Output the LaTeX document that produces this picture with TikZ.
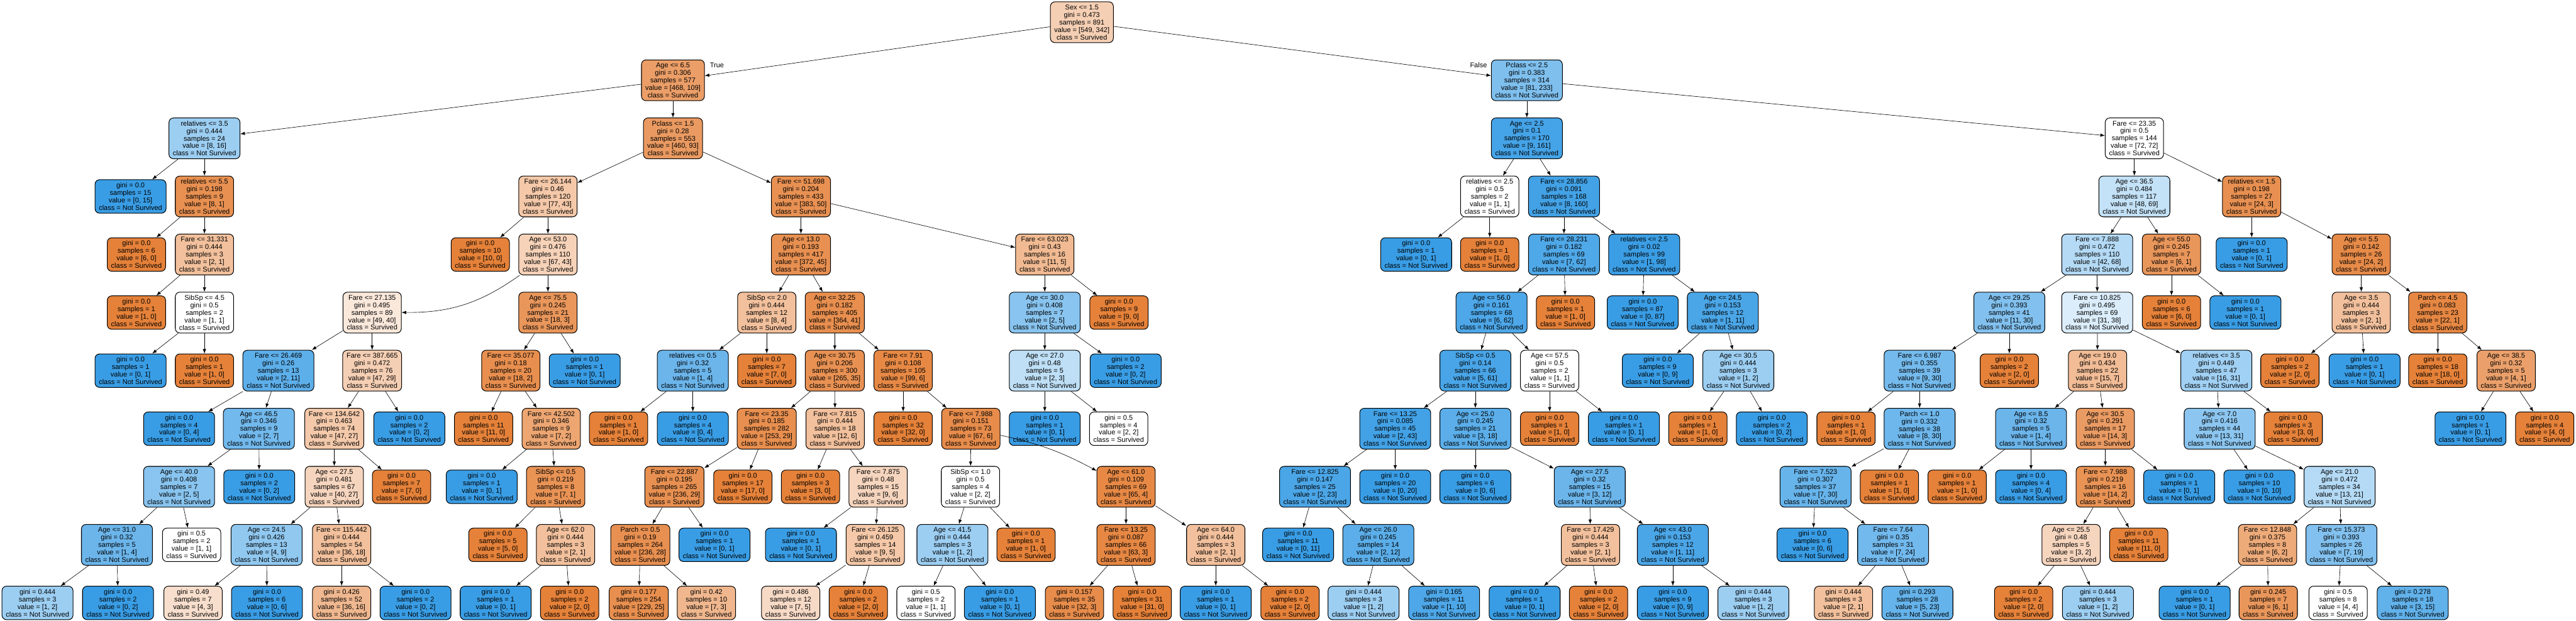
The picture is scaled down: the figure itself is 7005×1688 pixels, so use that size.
\documentclass[tikz,border=0pt]{standalone}
\usepackage{fontspec}
\setmainfont{Liberation Sans}
\usepackage{tikz}
\usetikzlibrary{arrows.meta}
\definecolor{surv}{HTML}{E58139}
\definecolor{nsurv}{HTML}{399DE5}

\begin{document}
\begin{tikzpicture}[x=0.01cm, y=0.01cm,
  font=\fontsize{5.35}{5.8}\selectfont,
  decision/.style={draw, line width=0.5pt, rounded corners=3.5pt, align=center,
    inner xsep=3pt, inner ysep=1pt, minimum height=1.11cm},
  outcome/.style={decision, minimum height=0.91cm},
  every edge/.style={draw, line width=0.3pt, -{Latex[length=3.5pt,width=2.6pt]}}]

  \useasboundingbox (0,0) rectangle (7005,1688);

  \node [decision,fill=surv!38] (n0) at (2942,1627.5) {Sex <= 1.5\\gini = 0.473\\samples = 891\\value = [549, 342]\\class = Survived};
  \node [decision,fill=surv!77] (n1) at (1830,1469.5) {Age <= 6.5\\gini = 0.306\\samples = 577\\value = [468, 109]\\class = Survived};
  \node [decision,fill=nsurv!50] (n2) at (556,1311.5) {relatives <= 3.5\\gini = 0.444\\samples = 24\\value = [8, 16]\\class = Not Survived};
  \node [outcome,fill=nsurv] (n3) at (355,1153.5) {gini = 0.0\\samples = 15\\value = [0, 15]\\class = Not Survived};
  \node [decision,fill=surv!88] (n4) at (556,1153.5) {relatives <= 5.5\\gini = 0.198\\samples = 9\\value = [8, 1]\\class = Survived};
  \node [outcome,fill=surv] (n5) at (371,995.5) {gini = 0.0\\samples = 6\\value = [6, 0]\\class = Survived};
  \node [decision,fill=surv!50] (n6) at (556,995.5) {Fare <= 31.331\\gini = 0.444\\samples = 3\\value = [2, 1]\\class = Survived};
  \node [outcome,fill=surv] (n7) at (371,837.5) {gini = 0.0\\samples = 1\\value = [1, 0]\\class = Survived};
  \node [decision,fill=white] (n8) at (556,837.5) {SibSp <= 4.5\\gini = 0.5\\samples = 2\\value = [1, 1]\\class = Survived};
  \node [outcome,fill=nsurv] (n9) at (355,679.5) {gini = 0.0\\samples = 1\\value = [0, 1]\\class = Not Survived};
  \node [outcome,fill=surv] (n10) at (556,679.5) {gini = 0.0\\samples = 1\\value = [1, 0]\\class = Survived};
  \node [decision,fill=surv!80] (n11) at (1830,1311.5) {Pclass <= 1.5\\gini = 0.28\\samples = 553\\value = [460, 93]\\class = Survived};
  \node [decision,fill=surv!44] (n12) at (1490,1153.5) {Fare <= 26.144\\gini = 0.46\\samples = 120\\value = [77, 43]\\class = Survived};
  \node [outcome,fill=surv] (n13) at (1306,995.5) {gini = 0.0\\samples = 10\\value = [10, 0]\\class = Survived};
  \node [decision,fill=surv!36] (n14) at (1490,995.5) {Age <= 53.0\\gini = 0.476\\samples = 110\\value = [67, 43]\\class = Survived};
  \node [decision,fill=surv!18] (n15) at (1012,837.5) {Fare <= 27.135\\gini = 0.495\\samples = 89\\value = [49, 40]\\class = Survived};
  \node [decision,fill=nsurv!82] (n16) at (757,679.5) {Fare <= 26.469\\gini = 0.26\\samples = 13\\value = [2, 11]\\class = Not Survived};
  \node [outcome,fill=nsurv] (n17) at (487,521.5) {gini = 0.0\\samples = 4\\value = [0, 4]\\class = Not Survived};
  \node [decision,fill=nsurv!71] (n18) at (704,521.5) {Age <= 46.5\\gini = 0.346\\samples = 9\\value = [2, 7]\\class = Not Survived};
  \node [decision,fill=nsurv!60] (n19) at (487,363.5) {Age <= 40.0\\gini = 0.408\\samples = 7\\value = [2, 5]\\class = Not Survived};
  \node [decision,fill=nsurv!75] (n20) at (318,205.5) {Age <= 31.0\\gini = 0.32\\samples = 5\\value = [1, 4]\\class = Not Survived};
  \node [outcome,fill=nsurv!50] (n21) at (102,47.5) {gini = 0.444\\samples = 3\\value = [1, 2]\\class = Not Survived};
  \node [outcome,fill=nsurv] (n22) at (321,47.5) {gini = 0.0\\samples = 2\\value = [0, 2]\\class = Not Survived};
  \node [outcome,fill=white] (n23) at (521,205.5) {gini = 0.5\\samples = 2\\value = [1, 1]\\class = Survived};
  \node [outcome,fill=nsurv] (n24) at (705,363.5) {gini = 0.0\\samples = 2\\value = [0, 2]\\class = Not Survived};
  \node [decision,fill=surv!38] (n25) at (1012,679.5) {Fare <= 387.665\\gini = 0.472\\samples = 76\\value = [47, 29]\\class = Survived};
  \node [decision,fill=surv!43] (n26) at (909,521.5) {Fare <= 134.642\\gini = 0.463\\samples = 74\\value = [47, 27]\\class = Survived};
  \node [decision,fill=surv!33] (n27) at (909,363.5) {Age <= 27.5\\gini = 0.481\\samples = 67\\value = [40, 27]\\class = Survived};
  \node [decision,fill=nsurv!56] (n28) at (725,205.5) {Age <= 24.5\\gini = 0.426\\samples = 13\\value = [4, 9]\\class = Not Survived};
  \node [outcome,fill=surv!25] (n29) at (525,47.5) {gini = 0.49\\samples = 7\\value = [4, 3]\\class = Survived};
  \node [outcome,fill=nsurv] (n30) at (726,47.5) {gini = 0.0\\samples = 6\\value = [0, 6]\\class = Not Survived};
  \node [decision,fill=surv!50] (n31) at (929,205.5) {Fare <= 115.442\\gini = 0.444\\samples = 54\\value = [36, 18]\\class = Survived};
  \node [outcome,fill=surv!56] (n32) at (929,47.5) {gini = 0.426\\samples = 52\\value = [36, 16]\\class = Survived};
  \node [outcome,fill=nsurv] (n33) at (1130,47.5) {gini = 0.0\\samples = 2\\value = [0, 2]\\class = Not Survived};
  \node [outcome,fill=surv] (n34) at (1092,363.5) {gini = 0.0\\samples = 7\\value = [7, 0]\\class = Survived};
  \node [outcome,fill=nsurv] (n35) at (1113,521.5) {gini = 0.0\\samples = 2\\value = [0, 2]\\class = Not Survived};
  \node [decision,fill=surv!83] (n36) at (1490,837.5) {Age <= 75.5\\gini = 0.245\\samples = 21\\value = [18, 3]\\class = Survived};
  \node [decision,fill=surv!89] (n37) at (1389,679.5) {Fare <= 35.077\\gini = 0.18\\samples = 20\\value = [18, 2]\\class = Survived};
  \node [outcome,fill=surv] (n38) at (1315,521.5) {gini = 0.0\\samples = 11\\value = [11, 0]\\class = Survived};
  \node [decision,fill=surv!71] (n39) at (1499,521.5) {Fare <= 42.502\\gini = 0.346\\samples = 9\\value = [7, 2]\\class = Survived};
  \node [outcome,fill=nsurv] (n40) at (1310,363.5) {gini = 0.0\\samples = 1\\value = [0, 1]\\class = Not Survived};
  \node [decision,fill=surv!86] (n41) at (1511,363.5) {SibSp <= 0.5\\gini = 0.219\\samples = 8\\value = [7, 1]\\class = Survived};
  \node [outcome,fill=surv] (n42) at (1354,205.5) {gini = 0.0\\samples = 5\\value = [5, 0]\\class = Survived};
  \node [decision,fill=surv!50] (n43) at (1538,205.5) {Age <= 62.0\\gini = 0.444\\samples = 3\\value = [2, 1]\\class = Survived};
  \node [outcome,fill=nsurv] (n44) at (1348,47.5) {gini = 0.0\\samples = 1\\value = [0, 1]\\class = Not Survived};
  \node [outcome,fill=surv] (n45) at (1549,47.5) {gini = 0.0\\samples = 2\\value = [2, 0]\\class = Survived};
  \node [outcome,fill=nsurv] (n46) at (1590,679.5) {gini = 0.0\\samples = 1\\value = [0, 1]\\class = Not Survived};
  \node [decision,fill=surv!87] (n47) at (2178,1153.5) {Fare <= 51.698\\gini = 0.204\\samples = 433\\value = [383, 50]\\class = Survived};
  \node [decision,fill=surv!88] (n48) at (2178,995.5) {Age <= 13.0\\gini = 0.193\\samples = 417\\value = [372, 45]\\class = Survived};
  \node [decision,fill=surv!50] (n49) at (2085,837.5) {SibSp <= 2.0\\gini = 0.444\\samples = 12\\value = [8, 4]\\class = Survived};
  \node [decision,fill=nsurv!75] (n50) at (1884,679.5) {relatives <= 0.5\\gini = 0.32\\samples = 5\\value = [1, 4]\\class = Not Survived};
  \node [outcome,fill=surv] (n51) at (1682,521.5) {gini = 0.0\\samples = 1\\value = [1, 0]\\class = Survived};
  \node [outcome,fill=nsurv] (n52) at (1884,521.5) {gini = 0.0\\samples = 4\\value = [0, 4]\\class = Not Survived};
  \node [outcome,fill=surv] (n53) at (2085,679.5) {gini = 0.0\\samples = 7\\value = [7, 0]\\class = Survived};
  \node [decision,fill=surv!89] (n54) at (2270,837.5) {Age <= 32.25\\gini = 0.182\\samples = 405\\value = [364, 41]\\class = Survived};
  \node [decision,fill=surv!87] (n55) at (2270,679.5) {Age <= 30.75\\gini = 0.206\\samples = 300\\value = [265, 35]\\class = Survived};
  \node [decision,fill=surv!89] (n56) at (2085,521.5) {Fare <= 23.35\\gini = 0.185\\samples = 282\\value = [253, 29]\\class = Survived};
  \node [decision,fill=surv!88] (n57) at (1834,363.5) {Fare <= 22.887\\gini = 0.195\\samples = 265\\value = [236, 29]\\class = Survived};
  \node [decision,fill=surv!88] (n58) at (1741,205.5) {Parch <= 0.5\\gini = 0.19\\samples = 264\\value = [236, 28]\\class = Survived};
  \node [outcome,fill=surv!89] (n59) at (1737,47.5) {gini = 0.177\\samples = 254\\value = [229, 25]\\class = Survived};
  \node [outcome,fill=surv!57] (n60) at (1921,47.5) {gini = 0.42\\samples = 10\\value = [7, 3]\\class = Survived};
  \node [outcome,fill=nsurv] (n61) at (1943,205.5) {gini = 0.0\\samples = 1\\value = [0, 1]\\class = Not Survived};
  \node [outcome,fill=surv] (n62) at (2020,363.5) {gini = 0.0\\samples = 17\\value = [17, 0]\\class = Survived};
  \node [decision,fill=surv!50] (n63) at (2271,521.5) {Fare <= 7.815\\gini = 0.444\\samples = 18\\value = [12, 6]\\class = Survived};
  \node [outcome,fill=surv] (n64) at (2204,363.5) {gini = 0.0\\samples = 3\\value = [3, 0]\\class = Survived};
  \node [decision,fill=surv!33] (n65) at (2388,363.5) {Fare <= 7.875\\gini = 0.48\\samples = 15\\value = [9, 6]\\class = Survived};
  \node [outcome,fill=nsurv] (n66) at (2178,205.5) {gini = 0.0\\samples = 1\\value = [0, 1]\\class = Not Survived};
  \node [decision,fill=surv!44] (n67) at (2380,205.5) {Fare <= 26.125\\gini = 0.459\\samples = 14\\value = [9, 5]\\class = Survived};
  \node [outcome,fill=surv!29] (n68) at (2150,47.5) {gini = 0.486\\samples = 12\\value = [7, 5]\\class = Survived};
  \node [outcome,fill=surv] (n69) at (2334,47.5) {gini = 0.0\\samples = 2\\value = [2, 0]\\class = Survived};
  \node [decision,fill=surv!94] (n70) at (2456,679.5) {Fare <= 7.91\\gini = 0.108\\samples = 105\\value = [99, 6]\\class = Survived};
  \node [outcome,fill=surv] (n71) at (2456,521.5) {gini = 0.0\\samples = 32\\value = [32, 0]\\class = Survived};
  \node [decision,fill=surv!91] (n72) at (2640,521.5) {Fare <= 7.988\\gini = 0.151\\samples = 73\\value = [67, 6]\\class = Survived};
  \node [decision,fill=white] (n73) at (2639,363.5) {SibSp <= 1.0\\gini = 0.5\\samples = 4\\value = [2, 2]\\class = Survived};
  \node [decision,fill=nsurv!50] (n74) at (2590,205.5) {Age <= 41.5\\gini = 0.444\\samples = 3\\value = [1, 2]\\class = Not Survived};
  \node [outcome,fill=white] (n75) at (2518,47.5) {gini = 0.5\\samples = 2\\value = [1, 1]\\class = Survived};
  \node [outcome,fill=nsurv] (n76) at (2719,47.5) {gini = 0.0\\samples = 1\\value = [0, 1]\\class = Not Survived};
  \node [outcome,fill=surv] (n77) at (2790,205.5) {gini = 0.0\\samples = 1\\value = [1, 0]\\class = Survived};
  \node [decision,fill=surv!94] (n78) at (3062,363.5) {Age <= 61.0\\gini = 0.109\\samples = 69\\value = [65, 4]\\class = Survived};
  \node [decision,fill=surv!95] (n79) at (3062,205.5) {Fare <= 13.25\\gini = 0.087\\samples = 66\\value = [63, 3]\\class = Survived};
  \node [outcome,fill=surv!91] (n80) at (2922,47.5) {gini = 0.157\\samples = 35\\value = [32, 3]\\class = Survived};
  \node [outcome,fill=surv] (n81) at (3106,47.5) {gini = 0.0\\samples = 31\\value = [31, 0]\\class = Survived};
  \node [decision,fill=surv!50] (n82) at (3306,205.5) {Age <= 64.0\\gini = 0.444\\samples = 3\\value = [2, 1]\\class = Survived};
  \node [outcome,fill=nsurv] (n83) at (3306,47.5) {gini = 0.0\\samples = 1\\value = [0, 1]\\class = Not Survived};
  \node [outcome,fill=surv] (n84) at (3508,47.5) {gini = 0.0\\samples = 2\\value = [2, 0]\\class = Survived};
  \node [decision,fill=surv!55] (n85) at (2841,995.5) {Fare <= 63.023\\gini = 0.43\\samples = 16\\value = [11, 5]\\class = Survived};
  \node [decision,fill=nsurv!60] (n86) at (2841,837.5) {Age <= 30.0\\gini = 0.408\\samples = 7\\value = [2, 5]\\class = Not Survived};
  \node [decision,fill=nsurv!33] (n87) at (2841,679.5) {Age <= 27.0\\gini = 0.48\\samples = 5\\value = [2, 3]\\class = Not Survived};
  \node [outcome,fill=nsurv] (n88) at (2841,521.5) {gini = 0.0\\samples = 1\\value = [0, 1]\\class = Not Survived};
  \node [outcome,fill=white] (n89) at (3042,521.5) {gini = 0.5\\samples = 4\\value = [2, 2]\\class = Survived};
  \node [outcome,fill=nsurv] (n90) at (3061,679.5) {gini = 0.0\\samples = 2\\value = [0, 2]\\class = Not Survived};
  \node [outcome,fill=surv] (n91) at (3043,837.5) {gini = 0.0\\samples = 9\\value = [9, 0]\\class = Survived};
  \node [decision,fill=nsurv!65] (n92) at (4152,1469.5) {Pclass <= 2.5\\gini = 0.383\\samples = 314\\value = [81, 233]\\class = Not Survived};
  \node [decision,fill=nsurv!94] (n93) at (4152,1311.5) {Age <= 2.5\\gini = 0.1\\samples = 170\\value = [9, 161]\\class = Not Survived};
  \node [decision,fill=white] (n94) at (4051,1153.5) {relatives <= 2.5\\gini = 0.5\\samples = 2\\value = [1, 1]\\class = Survived};
  \node [outcome,fill=nsurv] (n95) at (3851,995.5) {gini = 0.0\\samples = 1\\value = [0, 1]\\class = Not Survived};
  \node [outcome,fill=surv] (n96) at (4051,995.5) {gini = 0.0\\samples = 1\\value = [1, 0]\\class = Survived};
  \node [decision,fill=nsurv!95] (n97) at (4253,1153.5) {Fare <= 28.856\\gini = 0.091\\samples = 168\\value = [8, 160]\\class = Not Survived};
  \node [decision,fill=nsurv!89] (n98) at (4253,995.5) {Fare <= 28.231\\gini = 0.182\\samples = 69\\value = [7, 62]\\class = Not Survived};
  \node [decision,fill=nsurv!90] (n99) at (4056,837.5) {Age <= 56.0\\gini = 0.161\\samples = 68\\value = [6, 62]\\class = Not Survived};
  \node [decision,fill=nsurv!92] (n100) at (4012,679.5) {SibSp <= 0.5\\gini = 0.14\\samples = 66\\value = [5, 61]\\class = Not Survived};
  \node [decision,fill=nsurv!95] (n101) at (3794,521.5) {Fare <= 13.25\\gini = 0.085\\samples = 45\\value = [2, 43]\\class = Not Survived};
  \node [decision,fill=nsurv!91] (n102) at (3576,363.5) {Fare <= 12.825\\gini = 0.147\\samples = 25\\value = [2, 23]\\class = Not Survived};
  \node [outcome,fill=nsurv] (n103) at (3530,205.5) {gini = 0.0\\samples = 11\\value = [0, 11]\\class = Not Survived};
  \node [decision,fill=nsurv!83] (n104) at (3748,205.5) {Age <= 26.0\\gini = 0.245\\samples = 14\\value = [2, 12]\\class = Not Survived};
  \node [outcome,fill=nsurv!50] (n105) at (3708,47.5) {gini = 0.444\\samples = 3\\value = [1, 2]\\class = Not Survived};
  \node [outcome,fill=nsurv!90] (n106) at (3927,47.5) {gini = 0.165\\samples = 11\\value = [1, 10]\\class = Not Survived};
  \node [outcome,fill=nsurv] (n107) at (3794,363.5) {gini = 0.0\\samples = 20\\value = [0, 20]\\class = Not Survived};
  \node [decision,fill=nsurv!83] (n108) at (4012,521.5) {Age <= 25.0\\gini = 0.245\\samples = 21\\value = [3, 18]\\class = Not Survived};
  \node [outcome,fill=nsurv] (n109) at (4012,363.5) {gini = 0.0\\samples = 6\\value = [0, 6]\\class = Not Survived};
  \node [decision,fill=nsurv!75] (n110) at (4323,363.5) {Age <= 27.5\\gini = 0.32\\samples = 15\\value = [3, 12]\\class = Not Survived};
  \node [decision,fill=surv!50] (n111) at (4325,205.5) {Fare <= 17.429\\gini = 0.444\\samples = 3\\value = [2, 1]\\class = Survived};
  \node [outcome,fill=nsurv] (n112) at (4146,47.5) {gini = 0.0\\samples = 1\\value = [0, 1]\\class = Not Survived};
  \node [outcome,fill=surv] (n113) at (4347,47.5) {gini = 0.0\\samples = 2\\value = [2, 0]\\class = Survived};
  \node [decision,fill=nsurv!91] (n114) at (4549,205.5) {Age <= 43.0\\gini = 0.153\\samples = 12\\value = [1, 11]\\class = Not Survived};
  \node [outcome,fill=nsurv] (n115) at (4549,47.5) {gini = 0.0\\samples = 9\\value = [0, 9]\\class = Not Survived};
  \node [outcome,fill=nsurv!50] (n116) at (4768,47.5) {gini = 0.444\\samples = 3\\value = [1, 2]\\class = Not Survived};
  \node [decision,fill=white] (n117) at (4214,679.5) {Age <= 57.5\\gini = 0.5\\samples = 2\\value = [1, 1]\\class = Survived};
  \node [outcome,fill=surv] (n118) at (4214,521.5) {gini = 0.0\\samples = 1\\value = [1, 0]\\class = Survived};
  \node [outcome,fill=nsurv] (n119) at (4416,521.5) {gini = 0.0\\samples = 1\\value = [0, 1]\\class = Not Survived};
  \node [outcome,fill=surv] (n120) at (4257,837.5) {gini = 0.0\\samples = 1\\value = [1, 0]\\class = Survived};
  \node [decision,fill=nsurv!99] (n121) at (4471,995.5) {relatives <= 2.5\\gini = 0.02\\samples = 99\\value = [1, 98]\\class = Not Survived};
  \node [outcome,fill=nsurv] (n122) at (4467,837.5) {gini = 0.0\\samples = 87\\value = [0, 87]\\class = Not Survived};
  \node [decision,fill=nsurv!91] (n123) at (4685,837.5) {Age <= 24.5\\gini = 0.153\\samples = 12\\value = [1, 11]\\class = Not Survived};
  \node [outcome,fill=nsurv] (n124) at (4508,679.5) {gini = 0.0\\samples = 9\\value = [0, 9]\\class = Not Survived};
  \node [decision,fill=nsurv!50] (n125) at (4727,679.5) {Age <= 30.5\\gini = 0.444\\samples = 3\\value = [1, 2]\\class = Not Survived};
  \node [outcome,fill=surv] (n126) at (4617,521.5) {gini = 0.0\\samples = 1\\value = [1, 0]\\class = Survived};
  \node [outcome,fill=nsurv] (n127) at (4818,521.5) {gini = 0.0\\samples = 2\\value = [0, 2]\\class = Not Survived};
  \node [decision,fill=white] (n128) at (5804,1311.5) {Fare <= 23.35\\gini = 0.5\\samples = 144\\value = [72, 72]\\class = Survived};
  \node [decision,fill=nsurv!30] (n129) at (5804,1153.5) {Age <= 36.5\\gini = 0.484\\samples = 117\\value = [48, 69]\\class = Not Survived};
  \node [decision,fill=nsurv!38] (n130) at (5703,995.5) {Fare <= 7.888\\gini = 0.472\\samples = 110\\value = [42, 68]\\class = Not Survived};
  \node [decision,fill=nsurv!63] (n131) at (5464,837.5) {Age <= 29.25\\gini = 0.393\\samples = 41\\value = [11, 30]\\class = Not Survived};
  \node [decision,fill=nsurv!70] (n132) at (5220,679.5) {Fare <= 6.987\\gini = 0.355\\samples = 39\\value = [9, 30]\\class = Not Survived};
  \node [outcome,fill=surv] (n133) at (5020,521.5) {gini = 0.0\\samples = 1\\value = [1, 0]\\class = Survived};
  \node [decision,fill=nsurv!73] (n134) at (5220,521.5) {Parch <= 1.0\\gini = 0.332\\samples = 38\\value = [8, 30]\\class = Not Survived};
  \node [decision,fill=nsurv!77] (n135) at (4937,363.5) {Fare <= 7.523\\gini = 0.307\\samples = 37\\value = [7, 30]\\class = Not Survived};
  \node [outcome,fill=nsurv] (n136) at (4929,205.5) {gini = 0.0\\samples = 6\\value = [0, 6]\\class = Not Survived};
  \node [decision,fill=nsurv!71] (n137) at (5148,205.5) {Fare <= 7.64\\gini = 0.35\\samples = 31\\value = [7, 24]\\class = Not Survived};
  \node [outcome,fill=surv!50] (n138) at (5013,47.5) {gini = 0.444\\samples = 3\\value = [2, 1]\\class = Survived};
  \node [outcome,fill=nsurv!78] (n139) at (5214,47.5) {gini = 0.293\\samples = 28\\value = [5, 23]\\class = Not Survived};
  \node [outcome,fill=surv] (n140) at (5138,363.5) {gini = 0.0\\samples = 1\\value = [1, 0]\\class = Survived};
  \node [outcome,fill=surv] (n141) at (5464,679.5) {gini = 0.0\\samples = 2\\value = [2, 0]\\class = Survived};
  \node [decision,fill=nsurv!18] (n142) at (5703,837.5) {Fare <= 10.825\\gini = 0.495\\samples = 69\\value = [31, 38]\\class = Not Survived};
  \node [decision,fill=surv!53] (n143) at (5704,679.5) {Age <= 19.0\\gini = 0.434\\samples = 22\\value = [15, 7]\\class = Survived};
  \node [decision,fill=nsurv!75] (n144) at (5523,521.5) {Age <= 8.5\\gini = 0.32\\samples = 5\\value = [1, 4]\\class = Not Survived};
  \node [outcome,fill=surv] (n145) at (5322,363.5) {gini = 0.0\\samples = 1\\value = [1, 0]\\class = Survived};
  \node [outcome,fill=nsurv] (n146) at (5523,363.5) {gini = 0.0\\samples = 4\\value = [0, 4]\\class = Not Survived};
  \node [decision,fill=surv!79] (n147) at (5725,521.5) {Age <= 30.5\\gini = 0.291\\samples = 17\\value = [14, 3]\\class = Survived};
  \node [decision,fill=surv!86] (n148) at (5725,363.5) {Fare <= 7.988\\gini = 0.219\\samples = 16\\value = [14, 2]\\class = Survived};
  \node [decision,fill=surv!33] (n149) at (5632,205.5) {Age <= 25.5\\gini = 0.48\\samples = 5\\value = [3, 2]\\class = Survived};
  \node [outcome,fill=surv] (n150) at (5503,47.5) {gini = 0.0\\samples = 2\\value = [2, 0]\\class = Survived};
  \node [outcome,fill=nsurv!50] (n151) at (5705,47.5) {gini = 0.444\\samples = 3\\value = [1, 2]\\class = Not Survived};
  \node [outcome,fill=surv] (n152) at (5816,205.5) {gini = 0.0\\samples = 11\\value = [11, 0]\\class = Survived};
  \node [outcome,fill=nsurv] (n153) at (5926,363.5) {gini = 0.0\\samples = 1\\value = [0, 1]\\class = Not Survived};
  \node [decision,fill=nsurv!48] (n154) at (6027,679.5) {relatives <= 3.5\\gini = 0.449\\samples = 47\\value = [16, 31]\\class = Not Survived};
  \node [decision,fill=nsurv!58] (n155) at (6036,521.5) {Age <= 7.0\\gini = 0.416\\samples = 44\\value = [13, 31]\\class = Not Survived};
  \node [outcome,fill=nsurv] (n156) at (6144,363.5) {gini = 0.0\\samples = 10\\value = [0, 10]\\class = Not Survived};
  \node [decision,fill=nsurv!38] (n157) at (6362,363.5) {Age <= 21.0\\gini = 0.472\\samples = 34\\value = [13, 21]\\class = Not Survived};
  \node [decision,fill=surv!67] (n158) at (6166,205.5) {Fare <= 12.848\\gini = 0.375\\samples = 8\\value = [6, 2]\\class = Survived};
  \node [outcome,fill=nsurv] (n159) at (5968,47.5) {gini = 0.0\\samples = 1\\value = [0, 1]\\class = Not Survived};
  \node [outcome,fill=surv!83] (n160) at (6168,47.5) {gini = 0.245\\samples = 7\\value = [6, 1]\\class = Survived};
  \node [decision,fill=nsurv!63] (n161) at (6367,205.5) {Fare <= 15.373\\gini = 0.393\\samples = 26\\value = [7, 19]\\class = Not Survived};
  \node [outcome,fill=white] (n162) at (6358,47.5) {gini = 0.5\\samples = 8\\value = [4, 4]\\class = Survived};
  \node [outcome,fill=nsurv!80] (n163) at (6561,47.5) {gini = 0.278\\samples = 18\\value = [3, 15]\\class = Not Survived};
  \node [outcome,fill=surv] (n164) at (6236,521.5) {gini = 0.0\\samples = 3\\value = [3, 0]\\class = Survived};
  \node [decision,fill=surv!83] (n165) at (5905,995.5) {Age <= 55.0\\gini = 0.245\\samples = 7\\value = [6, 1]\\class = Survived};
  \node [outcome,fill=surv] (n166) at (5905,837.5) {gini = 0.0\\samples = 6\\value = [6, 0]\\class = Survived};
  \node [outcome,fill=nsurv] (n167) at (6106,837.5) {gini = 0.0\\samples = 1\\value = [0, 1]\\class = Not Survived};
  \node [decision,fill=surv!88] (n168) at (6123,1153.5) {relatives <= 1.5\\gini = 0.198\\samples = 27\\value = [24, 3]\\class = Survived};
  \node [outcome,fill=nsurv] (n169) at (6123,995.5) {gini = 0.0\\samples = 1\\value = [0, 1]\\class = Not Survived};
  \node [decision,fill=surv!92] (n170) at (6421,995.5) {Age <= 5.5\\gini = 0.142\\samples = 26\\value = [24, 2]\\class = Survived};
  \node [decision,fill=surv!50] (n171) at (6421,837.5) {Age <= 3.5\\gini = 0.444\\samples = 3\\value = [2, 1]\\class = Survived};
  \node [outcome,fill=surv] (n172) at (6227,679.5) {gini = 0.0\\samples = 2\\value = [2, 0]\\class = Survived};
  \node [outcome,fill=nsurv] (n173) at (6430,679.5) {gini = 0.0\\samples = 1\\value = [0, 1]\\class = Not Survived};
  \node [decision,fill=surv!95] (n174) at (6629,837.5) {Parch <= 4.5\\gini = 0.083\\samples = 23\\value = [22, 1]\\class = Survived};
  \node [outcome,fill=surv] (n175) at (6629,679.5) {gini = 0.0\\samples = 18\\value = [18, 0]\\class = Survived};
  \node [decision,fill=surv!75] (n176) at (6815,679.5) {Age <= 38.5\\gini = 0.32\\samples = 5\\value = [4, 1]\\class = Survived};
  \node [outcome,fill=nsurv] (n177) at (6718,521.5) {gini = 0.0\\samples = 1\\value = [0, 1]\\class = Not Survived};
  \node [outcome,fill=surv] (n178) at (6920,521.5) {gini = 0.0\\samples = 4\\value = [4, 0]\\class = Survived};

  \node [anchor=west] (ltrue) at (1918,1510) {True};
  \node [anchor=east] (lfalse) at (4056,1510) {False};

  \path
    (n0)   edge (n1)   edge (n92)
    (n1)   edge (n2)   edge (n11)
    (n2)   edge (n3)   edge (n4)
    (n4)   edge (n5)   edge (n6)
    (n6)   edge (n7)   edge (n8)
    (n8)   edge (n9)   edge (n10)
    (n11)  edge (n12)  edge (n47)
    (n12)  edge (n13)  edge (n14)
    (n14)  edge [bend left=18] (n15) edge (n36)
    (n15)  edge (n16)  edge (n25)
    (n16)  edge (n17)  edge (n18)
    (n18)  edge (n19)  edge (n24)
    (n19)  edge (n20)  edge (n23)
    (n20)  edge (n21)  edge (n22)
    (n25)  edge (n26)  edge (n35)
    (n26)  edge (n27)  edge (n34)
    (n27)  edge (n28)  edge (n31)
    (n28)  edge (n29)  edge (n30)
    (n31)  edge (n32)  edge (n33)
    (n36)  edge (n37)  edge (n46)
    (n37)  edge (n38)  edge (n39)
    (n39)  edge (n40)  edge (n41)
    (n41)  edge (n42)  edge (n43)
    (n43)  edge (n44)  edge (n45)
    (n47)  edge (n48)  edge (n85)
    (n48)  edge (n49)  edge (n54)
    (n49)  edge (n50)  edge (n53)
    (n50)  edge (n51)  edge (n52)
    (n54)  edge (n55)  edge (n70)
    (n55)  edge (n56)  edge (n63)
    (n56)  edge (n57)  edge (n62)
    (n57)  edge (n58)  edge (n61)
    (n58)  edge (n59)  edge (n60)
    (n63)  edge (n64)  edge (n65)
    (n65)  edge (n66)  edge (n67)
    (n67)  edge (n68)  edge (n69)
    (n70)  edge (n71)  edge (n72)
    (n72)  edge (n73)  edge [bend left=8] (n78)
    (n73)  edge (n74)  edge (n77)
    (n74)  edge (n75)  edge (n76)
    (n78)  edge (n79)  edge (n82)
    (n79)  edge (n80)  edge (n81)
    (n82)  edge (n83)  edge (n84)
    (n85)  edge (n86)  edge (n91)
    (n86)  edge (n87)  edge (n90)
    (n87)  edge (n88)  edge (n89)
    (n92)  edge (n93)  edge (n128)
    (n93)  edge (n94)  edge (n97)
    (n94)  edge (n95)  edge (n96)
    (n97)  edge (n98)  edge (n121)
    (n98)  edge (n99)  edge (n120)
    (n99)  edge (n100) edge (n117)
    (n100) edge (n101) edge (n108)
    (n101) edge (n102) edge (n107)
    (n102) edge (n103) edge (n104)
    (n104) edge (n105) edge (n106)
    (n108) edge (n109) edge (n110)
    (n110) edge (n111) edge (n114)
    (n111) edge (n112) edge (n113)
    (n114) edge (n115) edge (n116)
    (n117) edge (n118) edge (n119)
    (n121) edge (n122) edge (n123)
    (n123) edge (n124) edge (n125)
    (n125) edge (n126) edge (n127)
    (n128) edge (n129) edge (n168)
    (n129) edge (n130) edge (n165)
    (n130) edge (n131) edge (n142)
    (n131) edge (n132) edge (n141)
    (n132) edge (n133) edge (n134)
    (n134) edge (n135) edge (n140)
    (n135) edge (n136) edge (n137)
    (n137) edge (n138) edge (n139)
    (n142) edge (n143) edge (n154)
    (n143) edge (n144) edge (n147)
    (n144) edge (n145) edge (n146)
    (n147) edge (n148) edge (n153)
    (n148) edge (n149) edge (n152)
    (n149) edge (n150) edge (n151)
    (n154) edge (n155) edge (n164)
    (n155) edge (n156) edge (n157)
    (n157) edge (n158) edge (n161)
    (n158) edge (n159) edge (n160)
    (n161) edge (n162) edge (n163)
    (n165) edge (n166) edge (n167)
    (n168) edge (n169) edge (n170)
    (n170) edge (n171) edge (n174)
    (n171) edge (n172) edge (n173)
    (n174) edge (n175) edge (n176)
    (n176) edge (n177) edge (n178)
  ;

\end{tikzpicture}
\end{document}
